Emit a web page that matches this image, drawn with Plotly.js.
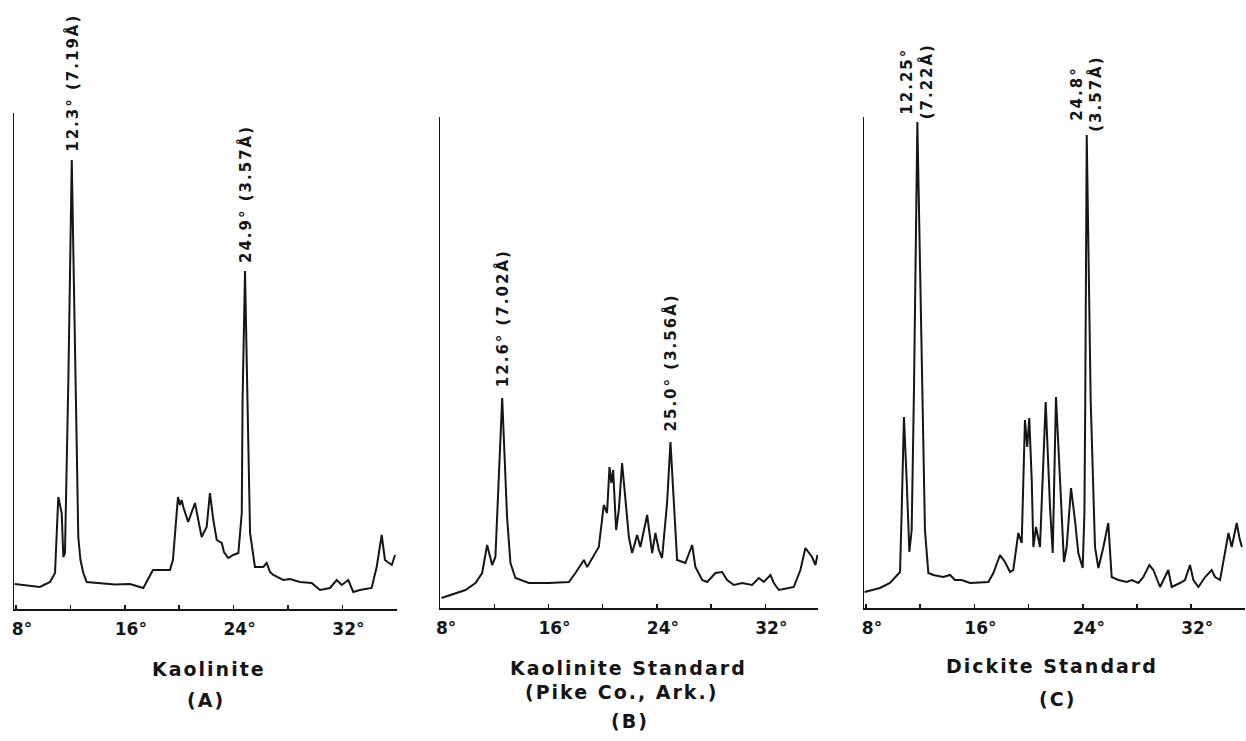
<!DOCTYPE html>
<html>
<head>
<meta charset="utf-8">
<script src="https://cdn.plot.ly/plotly-3.0.1.min.js"></script>
<style>
html,body{margin:0;padding:0;background:#ffffff;}
#chart{width:1246px;height:741px;}
.annotation-text{letter-spacing:2px;}
</style>
</head>
<body>
<div id="chart"></div>
<script>
// ---- Data (2θ in degrees, intensity in arbitrary units) ----
const angleA = [7.9, 9.76, 10.50, 10.87, 11.11, 11.36, 11.48, 11.60, 11.85, 12.10, 12.38, 12.49, 12.58, 12.74, 12.95, 13.20, 14.18, 15.28, 16.38, 17.36, 18.07, 19.32, 19.54, 19.91, 20.06, 20.18, 20.30, 20.66, 21.16, 21.65, 22.02, 22.26, 22.51, 22.76, 23.13, 23.29, 23.61, 23.98, 24.35, 24.60, 24.66, 24.84, 25.02, 25.21, 25.57, 26.18, 26.43, 26.68, 26.92, 27.65, 28.15, 28.88, 29.74, 30.35, 31.09, 31.58, 31.95, 32.43, 32.80, 33.29, 34.15, 34.52, 34.89, 35.13, 35.63, 35.87];
const intensA = [25, 22, 27, 36, 112, 96, 52, 56, 229, 449, 229, 129, 72, 49, 36, 27, 26, 24.5, 25, 21, 39, 39, 49, 112, 104, 109, 102, 87, 106, 72, 82, 116, 89, 69, 66, 57, 51, 54, 56, 96, 209, 338, 209, 76, 42, 42, 46, 37, 34, 29, 30, 27, 26, 19, 21, 29, 24, 29, 17, 19, 21, 42, 74, 49, 44, 54];

const angleB = [8.1, 9.13, 9.87, 10.61, 11.10, 11.47, 11.84, 12.08, 12.58, 12.94, 13.19, 13.56, 14.55, 16.02, 17.50, 17.99, 18.61, 18.85, 19.46, 19.71, 20.08, 20.32, 20.50, 20.64, 20.77, 20.99, 21.19, 21.43, 21.68, 21.93, 22.17, 22.54, 22.78, 23.28, 23.52, 23.65, 23.89, 24.14, 24.38, 24.75, 25.00, 25.25, 25.49, 26.10, 26.60, 26.84, 27.34, 27.71, 28.32, 28.81, 29.18, 29.68, 30.29, 31.03, 31.52, 31.89, 32.38, 32.63, 33.00, 33.73, 34.10, 34.59, 34.96, 35.45, 35.70, 35.85];
const intensB = [10, 15, 18, 25, 35, 63, 43, 51, 210, 91, 45, 30, 25, 25, 26, 35, 48, 41, 55, 61, 103, 95, 141, 125, 138, 78, 98, 145, 108, 71, 55, 73, 61, 93, 68, 55, 75, 58, 50, 105, 166, 105, 48, 45, 63, 41, 28, 26, 35, 36, 28, 23, 25, 23, 30, 26, 33, 25, 18, 20, 21, 38, 60, 51, 43, 53];

const angleC = [7.9, 9.03, 9.77, 10.51, 10.63, 10.80, 11.00, 11.20, 11.37, 11.54, 11.79, 12.17, 12.35, 12.60, 12.97, 13.70, 14.20, 14.57, 15.06, 15.68, 17.03, 17.40, 17.89, 18.26, 18.63, 18.87, 19.24, 19.49, 19.73, 19.90, 20.05, 20.23, 20.35, 20.55, 20.84, 21.26, 21.58, 21.78, 22.02, 22.32, 22.61, 22.81, 23.13, 23.42, 23.67, 23.99, 24.12, 24.18, 24.29, 24.58, 24.90, 25.15, 25.52, 25.88, 26.13, 26.62, 27.24, 27.61, 28.10, 28.47, 28.91, 29.21, 29.70, 30.31, 30.56, 31.17, 31.54, 31.91, 32.16, 32.53, 33.03, 33.51, 33.76, 34.13, 34.50, 34.75, 34.99, 35.36, 35.56, 35.74];
const intensC = [16, 20, 25, 36, 95, 191, 128, 56, 78, 218, 486, 218, 78, 35, 33, 31, 33, 28, 28, 25, 26, 35, 53, 46, 36, 38, 75, 65, 188, 161, 190, 128, 61, 81, 61, 206, 101, 55, 211, 128, 46, 61, 120, 88, 55, 40, 95, 208, 473, 208, 61, 40, 61, 85, 31, 28, 26, 28, 25, 31, 43, 38, 21, 38, 21, 25, 28, 43, 28, 21, 31, 38, 31, 28, 58, 75, 61, 85, 70, 61];

// Peak labels
const peakAngleA = [12.10, 24.84];
const peakIntA = [449, 338];
const peakTextA = ['12.3° (7.19Å)', '24.9° (3.57Å)'];
const peakAngleB = [12.58, 25.00];
const peakIntB = [210, 166];
const peakTextB = ['12.6° (7.02Å)', '25.0° (3.56Å)'];
const peakAngleC = [11.79, 24.29];
const peakIntC = [486, 473];
const peakTextC = ['12.25°<br>(7.22Å)', '24.8°<br>(3.57Å)'];

// Axis ticks
const tickVals = [8, 12, 16, 20, 24, 28, 32];
const tickText = ['8°', '', '16°', '', '24°', '', '32°'];

// Panel titles
const titleA = ['Kaolinite', '(A)'];
const titleB = ['Kaolinite Standard', '(Pike Co., Ark.)', '(B)'];
const titleC = ['Dickite Standard', '(C)'];

// ---- Layout helpers ----
const W = 1246, H = 741;
const px = v => v / W;
const py = v => 1 - v / H;
const FONT = 'DejaVu Sans';
const INK = '#151515';

function xax(x0, x1, range, anchor) {
  return {
    domain: [px(x0), px(x1)], range: range, anchor: anchor,
    showline: true, linecolor: INK, linewidth: 2,
    ticks: 'inside', ticklen: 4, tickwidth: 1.5, tickcolor: INK,
    tickmode: 'array', tickvals: tickVals, ticktext: tickText,
    tickfont: {family: FONT, size: 17, color: INK, weight: 'bold'},
    ticklabelshift: 6, ticklabelstandoff: 4,
    showgrid: false, zeroline: false, fixedrange: true
  };
}
function yax(top, bottom, anchor) {
  return {
    domain: [py(bottom), py(top)], range: [0, bottom - top], anchor: anchor,
    showline: true, linecolor: INK, linewidth: 1.5,
    showticklabels: false, ticks: '', showgrid: false, zeroline: false, fixedrange: true
  };
}

function trace(x, y, xa, ya) {
  return {x: x, y: y, xaxis: xa, yaxis: ya, type: 'scatter', mode: 'lines',
    line: {color: INK, width: 2}, hoverinfo: 'skip', showlegend: false};
}

const data = [
  trace(angleA, intensA, 'x', 'y'),
  trace(angleB, intensB, 'x2', 'y2'),
  trace(angleC, intensC, 'x3', 'y3')
];

const annotations = [];
function peakLabels(xs, ys, texts, xr, yr, gap) {
  for (let i = 0; i < xs.length; i++) {
    annotations.push({
      x: xs[i], y: ys[i], xref: xr, yref: yr, text: texts[i],
      textangle: -90, showarrow: false, xanchor: 'center', yanchor: 'bottom',
      yshift: gap, borderpad: 0, align: 'center',
      font: {family: FONT, size: 15, color: INK, weight: 'bold'}
    });
  }
}
peakLabels(peakAngleA, peakIntA, peakTextA, 'x', 'y', 7);
peakLabels(peakAngleB, peakIntB, peakTextB, 'x2', 'y2', 10);
peakLabels(peakAngleC, peakIntC, peakTextC, 'x3', 'y3', 2);

function titleLines(lines, cx, ys) {
  lines.forEach((t, i) => {
    annotations.push({
      x: px(cx[i]), y: py(ys[i]), xref: 'paper', yref: 'paper', text: t,
      showarrow: false, xanchor: 'center', yanchor: 'middle', borderpad: 0,
      font: {family: FONT, size: 19, color: INK, weight: 'bold'}
    });
  });
}
titleLines(titleA, [209, 206], [669, 700]);
titleLines(titleB, [628, 621, 630], [668, 692, 721]);
titleLines(titleC, [1052, 1057], [666, 699]);

const layout = {
  width: W, height: H,
  margin: {l: 0, r: 0, t: 0, b: 0},
  paper_bgcolor: '#ffffff', plot_bgcolor: 'rgba(0,0,0,0)',
  showlegend: false,
  xaxis: xax(14, 397, [7.853, 36.015], 'y'),
  yaxis: yax(113, 609, 'x'),
  xaxis2: xax(440, 818, [7.99, 35.89], 'y2'),
  yaxis2: yax(117, 608, 'x2'),
  xaxis3: xax(864, 1245, [7.852, 35.97], 'y3'),
  yaxis3: yax(117, 608, 'x3'),
  annotations: annotations,
  font: {family: FONT, color: INK}
};

Plotly.newPlot('chart', data, layout, {staticPlot: true, displayModeBar: false});
</script>
</body>
</html>
